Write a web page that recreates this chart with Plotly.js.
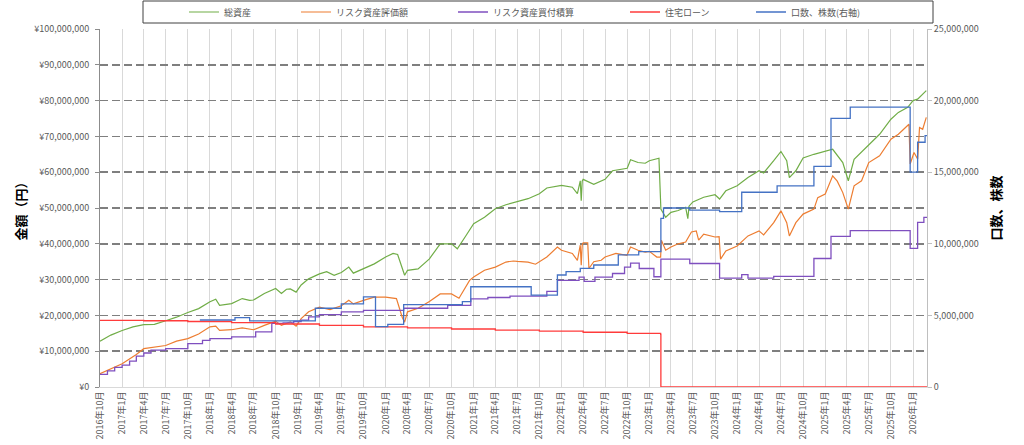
<!DOCTYPE html>
<html><head><meta charset="utf-8">
<script src="https://cdn.plot.ly/plotly-3.0.1.min.js"></script>
<style>html,body{margin:0;padding:0;background:#fff}#chart{width:1024px;height:445px}</style>
</head><body><div id="chart"></div>
<script>
// ---- series names ----
const seriesNames = ['総資産', 'リスク資産評価額', 'リスク資産買付積算', '住宅ローン', '口数、株数(右軸)'];

// ---- 総資産 (left axis, yen) ----
const totalDates = ['2016-10-01','2016-11-15','2017-01-01','2017-02-15','2017-04-01','2017-05-15','2017-07-01','2017-08-15','2017-10-01','2017-11-15',
 '2018-01-01','2018-01-25','2018-02-10','2018-03-15','2018-04-01','2018-05-15','2018-06-15','2018-07-01','2018-08-15','2018-10-01','2018-10-25','2018-11-15','2018-12-01','2018-12-25',
 '2019-01-15','2019-02-15','2019-04-01','2019-05-01','2019-06-01','2019-07-01','2019-08-01','2019-08-20','2019-10-01','2019-11-15',
 '2020-01-01','2020-02-01','2020-02-20','2020-03-20','2020-04-01','2020-05-15','2020-07-01','2020-08-15','2020-10-01','2020-10-25','2020-12-01',
 '2021-01-01','2021-02-15','2021-04-01','2021-05-15','2021-06-15','2021-07-01','2021-08-15','2021-10-01','2021-11-01',
 '2022-01-01','2022-02-15','2022-03-08','2022-03-20','2022-03-24','2022-03-28','2022-04-01','2022-05-15','2022-07-01','2022-08-01','2022-10-01','2022-10-15','2022-11-15','2022-12-15',
 '2023-01-01','2023-02-10','2023-02-18','2023-03-10','2023-04-01','2023-05-01','2023-06-01','2023-06-10','2023-06-15','2023-07-01','2023-08-15','2023-10-01','2023-10-20','2023-11-15',
 '2024-01-01','2024-02-15','2024-04-01','2024-04-20','2024-06-01','2024-07-01','2024-07-25','2024-08-05','2024-09-01','2024-10-01','2024-11-15',
 '2025-01-01','2025-02-01','2025-03-15','2025-04-07','2025-05-01','2025-07-01','2025-08-15','2025-10-01','2025-11-01','2025-12-10','2026-01-01','2026-01-20','2026-02-25'];
const totalValues = [12.8e6,14.5e6,15.8e6,16.8e6,17.4e6,17.5e6,18.5e6,19.5e6,20.8e6,21.9e6,
 23.8e6,24.5e6,22.8e6,23.0e6,23.3e6,24.7e6,24.2e6,24.3e6,26.1e6,27.5e6,26.1e6,27.3e6,27.4e6,26.5e6,
 28.5e6,30.2e6,31.6e6,32.2e6,31.2e6,32.0e6,33.5e6,31.8e6,33.0e6,34.4e6,
 36.3e6,37.3e6,37.0e6,31.2e6,32.6e6,33.0e6,35.8e6,40.0e6,40.0e6,38.6e6,42.4e6,
 45.6e6,47.4e6,49.8e6,50.9e6,51.5e6,51.7e6,52.6e6,54.0e6,55.6e6,
 56.3e6,55.8e6,54.0e6,57.6e6,52.0e6,57.5e6,58.0e6,56.6e6,58.0e6,60.4e6,61.1e6,63.5e6,62.7e6,62.5e6,
 63.2e6,63.9e6,49.7e6,47.4e6,48.8e6,49.3e6,50.2e6,47.0e6,50.5e6,51.7e6,53.0e6,53.7e6,52.5e6,54.8e6,
 56.2e6,58.5e6,60.4e6,59.8e6,63.2e6,65.8e6,63.2e6,58.5e6,60.4e6,64.0e6,65.0e6,
 65.9e6,66.4e6,62.7e6,57.6e6,63.6e6,67.8e6,70.6e6,74.8e6,76.7e6,78.1e6,80.0e6,80.4e6,82.8e6];

// ---- リスク資産評価額 (left axis, yen) ----
const riskDates = ['2016-10-01','2016-11-15','2017-01-01','2017-03-01','2017-04-01','2017-07-01','2017-08-15','2017-10-01','2017-11-15',
 '2018-01-01','2018-01-25','2018-02-10','2018-04-01','2018-05-15','2018-07-01','2018-08-15','2018-10-01','2018-10-25','2018-12-01','2018-12-25',
 '2019-01-15','2019-02-15','2019-04-01','2019-05-15','2019-07-01','2019-08-01','2019-08-20','2019-10-01','2019-11-15',
 '2020-01-01','2020-02-15','2020-03-10','2020-03-20','2020-04-01','2020-05-15','2020-07-01','2020-08-15','2020-10-01','2020-11-01','2020-12-15',
 '2021-01-01','2021-02-15','2021-04-01','2021-05-15','2021-06-15','2021-07-01','2021-08-15','2021-09-15','2021-10-01','2021-11-01','2021-12-15',
 '2022-01-01','2022-02-15','2022-03-08','2022-03-20','2022-03-24','2022-03-28','2022-04-01','2022-04-20','2022-04-25','2022-05-15','2022-06-15','2022-07-01','2022-08-15','2022-09-30','2022-10-15','2022-11-15','2022-12-15',
 '2023-01-01','2023-02-01','2023-02-17','2023-02-20','2023-03-10','2023-04-01','2023-05-01','2023-06-01','2023-06-25','2023-07-15','2023-07-25','2023-08-15','2023-10-01','2023-10-18','2023-10-24','2023-11-15',
 '2024-01-01','2024-02-15','2024-04-01','2024-04-20','2024-06-01','2024-07-01','2024-07-25','2024-08-05','2024-09-01','2024-10-01','2024-11-15','2024-12-01',
 '2025-01-01','2025-02-01','2025-02-20','2025-03-15','2025-04-07','2025-05-01','2025-06-01','2025-07-01','2025-08-15','2025-10-01','2025-11-01','2025-12-15','2025-12-20',
 '2026-01-05','2026-01-20','2026-01-28','2026-02-10','2026-02-25'];
const riskValues = [3.7e6,5.0e6,6.5e6,9.1e6,10.7e6,11.6e6,12.8e6,13.5e6,14.8e6,
 16.8e6,17.0e6,15.8e6,16.0e6,16.5e6,16.0e6,17.2e6,18.4e6,17.2e6,18.2e6,17.0e6,
 19.1e6,21.0e6,22.3e6,21.6e6,22.7e6,24.2e6,23.2e6,24.2e6,25.1e6,
 25.1e6,24.7e6,19.5e6,18.1e6,21.0e6,22.0e6,23.9e6,26.0e6,26.0e6,24.8e6,29.8e6,
 30.7e6,32.6e6,33.5e6,34.9e6,35.2e6,35.1e6,34.9e6,34.3e6,34.9e6,36.3e6,39.1e6,
 38.2e6,37.3e6,35.4e6,39.6e6,34.0e6,39.6e6,40.3e6,40.3e6,33.1e6,35.0e6,35.4e6,36.3e6,37.3e6,36.8e6,39.1e6,38.2e6,37.7e6,
 37.9e6,36.3e6,36.3e6,41.0e6,38.2e6,39.1e6,40.0e6,40.5e6,43.3e6,43.6e6,41.0e6,42.7e6,41.9e6,42.0e6,35.7e6,38.0e6,
 39.4e6,42.2e6,43.6e6,42.5e6,45.9e6,49.2e6,45.9e6,42.2e6,45.9e6,48.3e6,49.7e6,52.9e6,
 53.9e6,59.0e6,57.5e6,54.3e6,49.7e6,56.2e6,57.6e6,62.7e6,64.6e6,69.2e6,70.6e6,73.4e6,62.3e6,
 65.5e6,63.7e6,72.5e6,72.0e6,75.3e6];

// ---- リスク資産買付積算 (left axis, yen, stepped) ----
const costDates = ['2016-10-01','2016-11-01','2016-12-01','2017-01-01','2017-02-01','2017-03-01','2017-04-01','2017-05-01','2017-07-01','2017-10-01','2017-12-01',
 '2018-01-01','2018-04-01','2018-07-10','2018-09-15','2018-11-01','2018-12-15',
 '2019-01-15','2019-02-15','2019-04-01','2019-07-01','2019-10-01','2020-03-16','2020-09-15','2020-12-20',
 '2021-03-01','2021-06-01','2021-11-01','2021-12-15','2022-03-15','2022-04-05','2022-05-20','2022-08-01','2022-09-20','2022-10-15','2022-11-20',
 '2023-01-20','2023-02-18','2023-06-18','2023-10-20','2024-01-20','2024-02-15','2024-06-01','2024-11-15',
 '2025-01-25','2025-04-15','2025-12-20','2026-01-20','2026-02-15','2026-02-28'];
const costValues = [3.5e6,4.5e6,5.5e6,6.1e6,7.2e6,8.6e6,9.5e6,10.3e6,10.7e6,12.1e6,13.0e6,
 13.5e6,14.0e6,15.4e6,17.8e6,17.9e6,18.3e6,
 18.7e6,19.6e6,20.2e6,21.0e6,21.4e6,22.0e6,22.8e6,24.6e6,
 25.0e6,25.4e6,26.7e6,29.8e6,30.7e6,29.5e6,30.7e6,31.7e6,33.5e6,34.6e6,33.1e6,
 30.8e6,35.7e6,34.5e6,30.4e6,31.4e6,30.4e6,30.9e6,35.9e6,
 42.1e6,43.7e6,38.7e6,46.0e6,47.4e6,47.4e6];

// ---- 住宅ローン (left axis, yen) ----
const loanDates = ['2016-10-01','2017-04-01','2017-10-01','2018-04-01','2018-10-01','2019-04-01','2019-10-01','2020-04-01','2020-10-01',
 '2021-04-01','2021-10-01','2022-04-01','2022-10-01','2023-02-17','2023-02-18','2026-02-28'];
const loanValues = [18.6e6,18.5e6,18.3e6,18.0e6,17.6e6,17.2e6,16.8e6,16.5e6,16.2e6,
 15.9e6,15.6e6,15.3e6,15.0e6,14.7e6,0,0];

// ---- 口数、株数 (right axis, stepped) ----
const unitsDates = ['2017-11-20','2018-04-15','2018-06-15','2019-03-15','2019-07-01','2019-10-01','2019-11-20','2020-01-10','2020-03-16','2020-11-15','2020-12-20',
 '2021-08-28','2021-12-15','2022-01-20','2022-03-20','2022-05-15','2022-08-25','2022-11-18','2023-02-18','2023-03-01','2023-06-18','2023-10-20',
 '2024-01-20','2024-06-15','2024-11-15','2025-01-25','2025-04-15','2025-12-20','2026-01-20','2026-02-20','2026-02-28'];
const unitsValues = [4.68e6,4.84e6,4.62e6,5.5e6,5.8e6,6.3e6,4.21e6,4.38e6,5.75e6,5.96e6,7.0e6,
 6.42e6,7.82e6,8.05e6,8.29e6,8.52e6,9.22e6,9.45e6,11.78e6,12.5e6,12.35e6,12.24e6,
 13.6e6,14.04e6,15.4e6,18.76e6,19.55e6,15.0e6,17.09e6,17.55e6,17.55e6];

// ---- colors ----
const colors = ['#70ad47', '#ed7d31', '#7f4fbf', '#ff3b3b', '#4472c4'];

const FONT = '"Noto Sans CJK JP", "Noto Sans", sans-serif';
const tickFont = {family: FONT, size: 9, color: '#595959'};

const traces = [
  {x: totalDates, y: totalValues, name: seriesNames[0], legend: 'legend', line: {color: colors[0], width: 1.2}},
  {x: riskDates, y: riskValues, name: seriesNames[1], legend: 'legend2', line: {color: colors[1], width: 1.2}},
  {x: costDates, y: costValues, name: seriesNames[2], legend: 'legend3', line: {color: colors[2], width: 1.3, shape: 'hv'}},
  {x: loanDates, y: loanValues, name: seriesNames[3], legend: 'legend4', line: {color: colors[3], width: 1.3, shape: 'hv'}},
  {x: unitsDates, y: unitsValues, name: seriesNames[4], legend: 'legend5', yaxis: 'y2', line: {color: colors[4], width: 1.3, shape: 'hv'}}
].map(t => Object.assign({type: 'scatter', mode: 'lines', hoverinfo: 'skip'}, t));

function lg(px) {
  return {x: px / 1024, y: 1 - 12 / 445, xref: 'container', yref: 'container', xanchor: 'left', yanchor: 'middle',
    orientation: 'h', bgcolor: 'rgba(0,0,0,0)', borderwidth: 0, font: {family: FONT, size: 9, color: '#595959'}};
}

const layout = {
  width: 1024, height: 445,
  margin: {l: 100, r: 97, t: 29, b: 58},
  paper_bgcolor: '#ffffff', plot_bgcolor: '#ffffff',
  font: {family: FONT, size: 9, color: '#595959'},
  showlegend: true,
  legend: lg(184), legend2: lg(296), legend3: lg(453), legend4: lg(625), legend5: lg(751),
  xaxis: {
    type: 'date', range: ['2016-10-01', '2026-02-28'],
    tick0: '2016-10-01', dtick: 'M3', tickformat: '%Y年%-m月', tickangle: -90,
    showgrid: true, gridcolor: '#d9d9d9', gridwidth: 1,
    showline: true, linecolor: '#d9d9d9', ticks: '', tickfont: tickFont, zeroline: false
  },
  yaxis: {
    range: [0, 100e6], dtick: 10e6, tickprefix: '¥', tickformat: ',d',
    showgrid: true, gridcolor: '#7f7f7f', gridwidth: 1.5, griddash: '8px,4px',
    showline: true, linecolor: '#8c8c8c', ticks: 'outside', ticklen: 4, tickcolor: '#8c8c8c',
    tickfont: tickFont, zeroline: false, ticklabelstandoff: 4,
    title: {text: '金額（円）', font: {family: FONT, size: 13, color: '#000000', weight: 'bold'}, standoff: 4}
  },
  yaxis2: {
    overlaying: 'y', side: 'right', range: [0, 25e6], dtick: 5e6, tickformat: ',d',
    showgrid: false, showline: true, linecolor: '#bfbfbf', ticks: 'outside', ticklen: 4, tickcolor: '#bfbfbf',
    tickfont: tickFont, zeroline: false,
    title: {text: '口数、株数', font: {family: FONT, size: 13, color: '#000000', weight: 'bold'}, standoff: 14}
  },
  shapes: [
    {type: 'rect', xref: 'paper', yref: 'paper', x0: (143 - 100) / 827, x1: (933 - 100) / 827,
     y0: (387 - 23) / 358, y1: (387 - 1) / 358, line: {color: '#404040', width: 1}, fillcolor: 'rgba(0,0,0,0)', layer: 'above'}
  ]
};

Plotly.newPlot('chart', traces, layout, {staticPlot: true, displayModeBar: false});
</script>
</body></html>
